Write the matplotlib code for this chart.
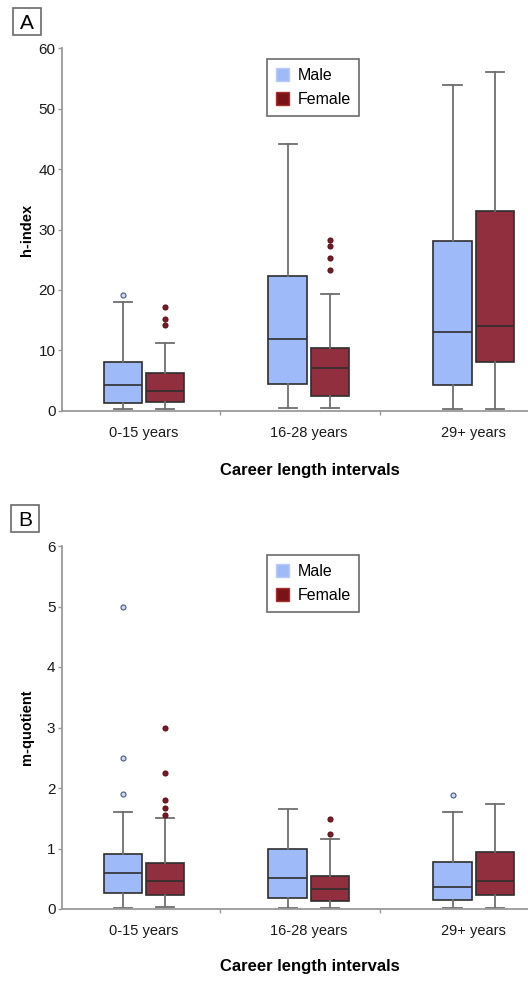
import matplotlib
matplotlib.use('Agg')
import matplotlib.pyplot as plt
from matplotlib.patches import Patch, Rectangle

plt.rcParams['font.family'] = ['Liberation Sans', 'DejaVu Sans']

MALE_COLOR = '#9fbaf8'
FEMALE_COLOR = '#922f3e'
MALE_LEG = '#9fbaf8'
FEMALE_LEG = '#7a1317'
AXIS_COLOR = '#9a9a9a'
WHISKER_COLOR = '#6e6e6e'
EDGE_COLOR = '#2e2e2e'

categories = ['0-15 years', '16-28 years', '29+ years']

# h-index box stats per career interval: [whislo, q1, median, q3, whishi]
h_male = [[0.3, 1.3, 4.2, 8.1, 18.0],
          [0.5, 4.5, 11.9, 22.3, 44.2],
          [0.2, 4.3, 13.1, 28.1, 54.0]]
h_female = [[0.3, 1.4, 3.3, 6.3, 11.2],
            [0.5, 2.5, 7.0, 10.3, 19.3],
            [0.2, 8.1, 14.1, 33.1, 56.0]]
h_male_out = [[19.1], [], []]
h_female_out = [[17.1, 15.2, 14.2], [28.3, 27.3, 25.3, 23.3], []]

# m-quotient box stats
m_male = [[0.02, 0.26, 0.59, 0.91, 1.61],
          [0.02, 0.18, 0.52, 1.00, 1.66],
          [0.02, 0.15, 0.36, 0.77, 1.61]]
m_female = [[0.03, 0.23, 0.46, 0.76, 1.51],
            [0.02, 0.13, 0.33, 0.55, 1.15],
            [0.02, 0.23, 0.47, 0.94, 1.74]]
m_male_out = [[5.0, 2.5, 1.9], [], [1.88]]
m_female_out = [[3.0, 2.25, 1.8, 1.67, 1.55], [1.48, 1.24], []]


def make_stats(rows, outliers):
    stats = []
    for r, o in zip(rows, outliers):
        stats.append({'whislo': r[0], 'q1': r[1], 'med': r[2], 'q3': r[3],
                      'whishi': r[4], 'fliers': o})
    return stats


def draw_group(ax, rows, outliers, positions, face, flier_face, flier_edge):
    ax.bxp(make_stats(rows, outliers), positions=positions, widths=0.233,
           patch_artist=True, showfliers=True, capwidths=0.11,
           boxprops=dict(facecolor=face, edgecolor=EDGE_COLOR, linewidth=1.2),
           medianprops=dict(color=EDGE_COLOR, linewidth=1.2),
           whiskerprops=dict(color=WHISKER_COLOR, linewidth=1.3),
           capprops=dict(color=WHISKER_COLOR, linewidth=1.3),
           flierprops=dict(marker='o', markersize=3.6, markerfacecolor=flier_face,
                           markeredgecolor=flier_edge, markeredgewidth=0.8))


def draw_panel(ax, male, female, male_out, female_out, ymax, ylabel, fig, label_y, legend_top):
    centers = [0, 1, 2]
    pos_m = [c - 0.128 for c in centers]
    pos_f = [c + 0.128 for c in centers]
    draw_group(ax, male, male_out, pos_m, MALE_COLOR, '#c9d8fb', '#4a5a80')
    draw_group(ax, female, female_out, pos_f, FEMALE_COLOR, '#7a1a26', '#5a1018')

    ax.set_xlim(-0.499, 2.33)
    ax.set_ylim(0, ymax)
    ax.set_xticks(centers)
    ax.set_xticklabels(categories, fontsize=10.5, color='#1a1a1a')
    ax.set_xticks([0.46, 1.43], minor=True)
    ax.tick_params(axis='x', which='major', length=0, pad=11)
    ax.tick_params(axis='x', which='minor', length=3, color=AXIS_COLOR, width=1)
    ax.tick_params(axis='y', length=3, color=AXIS_COLOR, width=1, pad=1.5,
                   labelsize=11, labelcolor='#1a1a1a')

    for side in ['top', 'right']:
        ax.spines[side].set_visible(False)
    for side in ['left', 'bottom']:
        ax.spines[side].set_color(AXIS_COLOR)
        ax.spines[side].set_linewidth(1.3)

    handles = [Patch(facecolor=MALE_LEG, edgecolor='#b8cbf9', label='Male'),
               Patch(facecolor=FEMALE_LEG, edgecolor='#a83030', label='Female')]
    bb = ax.get_position()
    anchor = ((267 / 528 - bb.x0) / bb.width, ((1 - legend_top / 982) - bb.y0) / bb.height)
    leg = ax.legend(handles=handles, loc='upper left', bbox_to_anchor=anchor,
                    fontsize=11.5, handlelength=0.85, handleheight=0.85, handletextpad=0.5,
                    labelspacing=0.55, borderpad=0.55, fancybox=False, framealpha=1,
                    borderaxespad=0)
    leg.get_frame().set_edgecolor('#6a6a6a')
    leg.get_frame().set_linewidth(1.2)

    fig.text(27 / 528, (bb.y0 + bb.y1) / 2, ylabel, rotation=90, ha='center', va='center',
             fontsize=10.5, fontweight='bold')
    fig.text(310 / 528, 1 - label_y / 982, 'Career length intervals', ha='center', va='center',
             fontsize=12, fontweight='bold')


fig = plt.figure(figsize=(5.28, 9.82), dpi=100)
ax_a = fig.add_axes([61.7 / 528, 1 - 410.7 / 982, 1 - 61.7 / 528, (410.7 - 48.3) / 982])
ax_b = fig.add_axes([61.7 / 528, 1 - 909 / 982, 1 - 61.7 / 528, (909 - 546) / 982])

draw_panel(ax_a, h_male, h_female, h_male_out, h_female_out, 60, 'h-index', fig, 470.7, 59.3)
ax_a.set_yticks([0, 10, 20, 30, 40, 50, 60])
draw_panel(ax_b, m_male, m_female, m_male_out, m_female_out, 6, 'm-quotient', fig, 966, 555.3)
ax_b.set_yticks([0, 1, 2, 3, 4, 5, 6])

# panel letters in boxes
for letter, x0, y0 in [('A', 12.7, 8.3), ('B', 11.3, 505)]:
    fig.patches.append(Rectangle((x0 / 528, 1 - (y0 + 27) / 982), 28 / 528, 27 / 982,
                                 transform=fig.transFigure, fill=False,
                                 edgecolor='#6a6a6a', linewidth=1.2))
    fig.text((x0 + 14) / 528, 1 - (y0 + 21) / 982, letter, ha='center', va='baseline',
             fontsize=15)

fig.savefig('out.png', dpi=100)
